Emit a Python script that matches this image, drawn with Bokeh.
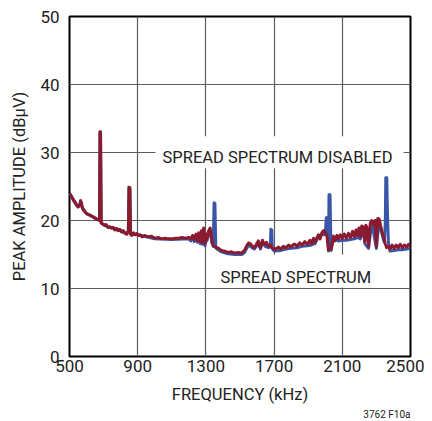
from bokeh.plotting import figure
from bokeh.models import Range1d, FixedTicker, Label, Title
from bokeh.embed import file_html
from bokeh.resources import INLINE

# ---------------- data ----------------
x_ticks = [500, 900, 1300, 1700, 2100, 2500]
y_ticks = [0, 10, 20, 30, 40, 50]

# spread spectrum enabled (red)
freq_ss = [500, 510, 520, 530, 540, 550, 560, 565, 570, 575, 580, 590, 600, 620, 640, 660,
           676, 679, 682, 686, 695, 705, 715, 725, 735, 745, 755, 765, 775, 785, 795, 805,
           815, 825, 835, 845, 849, 854, 858, 865, 875, 885, 895, 905, 915, 925, 940, 960,
           980, 1000, 1020, 1040, 1060, 1080, 1100, 1120, 1140, 1160, 1180, 1200, 1212, 1222,
           1232, 1242, 1250, 1258, 1266, 1274, 1280, 1287, 1295, 1300, 1306, 1316, 1325, 1335,
           1345, 1355, 1365, 1375, 1390, 1410, 1430, 1450, 1470, 1490, 1510, 1526, 1540, 1550,
           1560, 1570, 1585, 1598, 1608, 1615, 1620, 1632, 1640, 1648, 1655, 1667, 1678, 1685,
           1702, 1715, 1726, 1740, 1755, 1770, 1785, 1800, 1815, 1823, 1835, 1850, 1865, 1880,
           1895, 1910, 1920, 1931, 1940, 1950, 1960, 1970, 1980, 1990, 2000, 2009, 2019, 2035,
           2048, 2058, 2068, 2077, 2088, 2100, 2112, 2124, 2136, 2148, 2160, 2170, 2180, 2190,
           2198, 2206, 2214, 2224, 2232, 2238, 2244, 2254, 2264, 2273, 2283, 2292, 2300, 2308,
           2316, 2324, 2334, 2344, 2352, 2360, 2370, 2380, 2392, 2404, 2416, 2428, 2440, 2452,
           2464, 2476, 2488, 2500]
amp_ss = [24.0, 23.6, 23.1, 22.7, 22.3, 22.0, 22.2, 22.9, 22.6, 21.9, 21.6, 21.3, 21.0, 20.8, 20.5, 20.2,
          20.0, 33.0, 33.0, 19.6, 19.5, 19.3, 19.4, 19.0, 19.1, 18.9, 19.0, 18.6, 18.8, 18.5, 18.7, 18.3,
          18.5, 18.2, 18.0, 18.4, 24.9, 24.8, 18.0, 17.8, 18.2, 17.9, 18.1, 17.8, 17.9, 17.6, 17.8, 17.6,
          17.7, 17.4, 17.5, 17.3, 17.4, 17.3, 17.3, 17.4, 17.4, 17.5, 17.4, 17.5, 17.3, 17.8,
          17.2, 18.0, 17.0, 18.2, 16.9, 18.5, 16.8, 18.9, 16.6, 18.0, 17.3, 18.5, 18.9, 17.0,
          16.3, 16.1, 16.0, 15.9, 15.6, 15.5, 15.3, 15.4, 15.2, 15.3, 15.2, 15.6, 16.3, 16.7,
          16.6, 16.3, 16.0, 16.6, 17.0, 16.2, 16.0, 17.1, 16.6, 16.5, 16.8, 16.2, 16.4, 16.1,
          15.7, 15.9, 16.1, 15.8, 16.2, 16.0, 16.4, 16.1, 16.5, 16.5, 16.2, 16.7, 16.4, 16.9,
          16.5, 17.1, 16.6, 17.4, 16.8, 17.4, 17.9, 17.3, 18.2, 18.5, 18.2, 17.9, 15.7, 15.8,
          17.7, 17.0, 17.8, 17.3, 17.9, 17.4, 18.0, 17.4, 18.1, 17.5, 18.4, 17.6, 18.6, 17.8,
          18.9, 17.6, 19.2, 19.0, 16.9, 19.3, 19.0, 16.2, 19.6, 20.0, 19.4, 20.0, 16.2, 20.3,
          20.2, 19.3, 18.2, 17.4, 16.6, 16.0, 16.2, 15.8, 16.4, 15.9, 16.4, 16.0, 16.5, 16.0,
          16.4, 16.1, 16.5, 16.2]

# spread spectrum disabled (blue)
freq_dis = [500, 550, 560, 565, 575, 600, 640, 676, 679, 682, 686, 725, 775, 835, 845, 849, 854, 858,
            900, 1000, 1100, 1200, 1212, 1222, 1232, 1242, 1250, 1258, 1266, 1274, 1280, 1287, 1295,
            1300, 1306, 1316, 1325, 1335, 1343, 1348, 1353, 1358, 1365, 1390, 1430, 1470, 1510, 1526,
            1550, 1570, 1585, 1608, 1620, 1632, 1648, 1667, 1678, 1681, 1686, 1690, 1702, 1740, 1770,
            1800, 1835, 1865, 1895, 1920, 1940, 1960, 1980, 2000, 2006, 2010, 2014, 2019, 2022, 2028,
            2034, 2048, 2077, 2100, 2124, 2148, 2170, 2190, 2206, 2224, 2232, 2254, 2273, 2300, 2316,
            2334, 2346, 2352, 2355, 2361, 2365, 2370, 2380, 2404, 2428, 2452, 2476, 2500]
amp_dis = [24.0, 22.0, 22.2, 22.9, 21.9, 21.0, 20.5, 20.0, 33.0, 33.0, 19.6, 19.0, 18.8, 18.0, 18.4, 24.9, 24.8, 18.0,
           17.9, 17.3, 17.2, 17.3, 17.0, 17.5, 16.9, 17.7, 16.8, 17.9, 16.6, 18.2, 16.5, 18.6, 16.3,
           17.7, 17.0, 18.2, 18.6, 16.7, 16.2, 22.6, 22.5, 16.0, 15.8, 15.4, 15.1, 15.0, 15.0, 15.3,
           16.4, 16.0, 15.8, 16.7, 15.8, 16.8, 16.2, 16.0, 16.1, 18.7, 18.6, 15.8, 15.5, 15.6, 15.8,
           15.9, 16.0, 16.2, 16.3, 16.4, 16.6, 17.6, 17.9, 17.9, 20.4, 20.4, 18.0, 15.5, 23.8, 23.8,
           15.6, 17.4, 17.0, 17.1, 17.1, 17.2, 17.3, 17.5, 17.3, 18.7, 16.6, 15.9, 19.7, 15.9, 19.9,
           17.9, 16.8, 19.5, 26.3, 26.3, 21.0, 16.8, 15.5, 15.6, 15.7, 15.7, 15.8, 15.9]

FONT = "Roboto"
RED = "#8c1a2e"
BLUE = "#3a57a7"
GRID = "#5c5c5c"
TXT = "#222222"

p = figure(width=424, height=419, output_backend="svg", toolbar_location=None,
           x_range=Range1d(500, 2500), y_range=Range1d(0, 50),
           min_border_left=69, min_border_right=14, min_border_top=16, min_border_bottom=62)

p.xaxis.ticker = FixedTicker(ticks=x_ticks)
p.yaxis.ticker = FixedTicker(ticks=y_ticks)
p.xgrid.ticker = FixedTicker(ticks=x_ticks)
p.ygrid.ticker = FixedTicker(ticks=y_ticks)
p.grid.grid_line_color = GRID
p.grid.grid_line_width = 1.2

for ax in (p.xaxis[0], p.yaxis[0]):
    ax.axis_line_color = None
    ax.major_tick_line_color = None
    ax.minor_tick_line_color = None
    ax.major_tick_out = 0
    ax.major_tick_in = 0
    ax.minor_tick_out = 0
    ax.minor_tick_in = 0
    ax.major_label_text_font = FONT
    ax.major_label_text_font_size = "17px"
    ax.major_label_text_color = TXT
    ax.axis_label_text_font = FONT
    ax.axis_label_text_font_size = "16.5px"
    ax.axis_label_text_font_style = "normal"
    ax.axis_label_text_color = TXT

p.xaxis.axis_label = "FREQUENCY (kHz)"
p.yaxis.axis_label = "PEAK AMPLITUDE (dBµV)"
p.xaxis.major_label_standoff = 3
p.xaxis.axis_label_standoff = 10
p.yaxis.major_label_standoff = 10
p.yaxis.axis_label_standoff = 8

# figure number as a small title below the axis
p.add_layout(Title(text="3762 F10a", align="right", text_font=FONT, text_font_size="10px",
                   text_font_style="normal", text_color=TXT, standoff=0), "below")

p.outline_line_color = "black"
p.outline_line_width = 2
p.background_fill_color = "white"
p.border_fill_color = "white"

# white backgrounds behind the annotations
p.quad(left=[1004], right=[2459], bottom=[27.7], top=[32.4], fill_color="white", line_color=None)
p.quad(left=[1345], right=[2312], bottom=[10.15], top=[15.0], fill_color="white", line_color=None)

p.line(freq_dis, amp_dis, line_color=BLUE, line_width=3, line_join="round")
p.line(freq_ss, amp_ss, line_color=RED, line_width=3, line_join="round")

p.add_layout(Label(x=1720, y=29.2, text="SPREAD SPECTRUM DISABLED", text_align="center",
                   text_baseline="alphabetic", text_font=FONT, text_font_size="16.5px", text_color=TXT))
p.add_layout(Label(x=1827, y=11.6, text="SPREAD SPECTRUM", text_align="center",
                   text_baseline="alphabetic", text_font=FONT, text_font_size="16.5px", text_color=TXT))

open("out.html", "w").write(file_html(p, INLINE))
